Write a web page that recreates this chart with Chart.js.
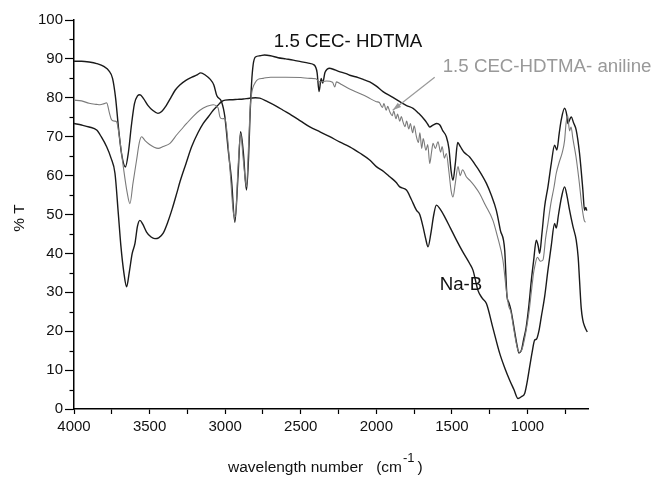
<!DOCTYPE html>
<html>
<head>
<meta charset="utf-8">
<script src="https://cdn.jsdelivr.net/npm/chart.js@4"></script>
<style>
  html, body { margin: 0; padding: 0; background: #fff; }
  #wrap { width: 656px; height: 477px; position: relative; }
</style>
</head>
<body>
<div id="wrap"><canvas id="irChart"></canvas></div>
<script>
// wavenumbers (cm-1) and %T
const hdtmaWn = [4000, 3950, 3900, 3850, 3800, 3770, 3745, 3725, 3705, 3685, 3660, 3640, 3620, 3600, 3580, 3564, 3540, 3510, 3480, 3445, 3420, 3390, 3360, 3330, 3300, 3260, 3220, 3190, 3161, 3130, 3100, 3075, 3055, 3024, 3002, 2980, 2958, 2936, 2915, 2898, 2880, 2859, 2845, 2835, 2825, 2815, 2800, 2770, 2740, 2700, 2650, 2600, 2550, 2500, 2450, 2410, 2392, 2379, 2365, 2355, 2340, 2308, 2290, 2250, 2200, 2176, 2120, 2080, 2044, 2000, 1956, 1900, 1845, 1800, 1757, 1720, 1680, 1660, 1647, 1625, 1600, 1580, 1560, 1537, 1520, 1505, 1493, 1478, 1462, 1445, 1420, 1383, 1350, 1320, 1272, 1240, 1206, 1180, 1151, 1136, 1125, 1110, 1090, 1070, 1057, 1040, 1025, 1009, 990, 975, 960, 942, 930, 920, 905, 887, 865, 843, 821, 806, 790, 777, 755, 740, 733, 720, 711, 695, 678, 656, 634, 623, 615, 608];
const hdtmaT = [89.4, 89.4, 89.2, 88.8, 88.0, 87.0, 85.0, 80.0, 72.0, 65.5, 62.2, 66, 73, 78.5, 80.5, 80.8, 79.8, 78.0, 76.8, 76.0, 76.5, 78.0, 80.0, 82.0, 83.3, 84.5, 85.3, 85.8, 86.4, 85.8, 84.8, 83.3, 80.5, 79.0, 75.1, 66.6, 58.8, 48.0, 60, 71.3, 66, 56.3, 65, 76, 84, 88.5, 90.5, 90.8, 91.0, 90.8, 90.3, 90.0, 89.7, 89.3, 88.9, 88.4, 86.5, 81.6, 85, 83.8, 86.5, 87.6, 87.4, 86.8, 86.2, 85.8, 85.2, 84.6, 84.1, 83.0, 81.6, 80.3, 79.0, 78.0, 77.3, 76.0, 74.3, 73.2, 72.5, 73.0, 73.4, 73.0, 71.5, 70.0, 67, 61, 58.8, 63, 68.5, 67.5, 66, 64.8, 63, 61.3, 58, 55, 51, 46, 40.8, 29, 27.5, 25.5, 21, 16.5, 14.4, 15.2, 18, 21, 27, 33, 38, 43.4, 42, 40, 45, 52, 57.1, 63.1, 67.8, 66.6, 71, 74.3, 77.3, 75.5, 73.4, 74.5, 75.1, 73.5, 71.7, 65.7, 56.3, 51.1, 51.8, 51];

const anilineWn = [4000, 3950, 3900, 3850, 3828, 3800, 3784, 3765, 3751, 3730, 3718, 3700, 3674, 3650, 3630, 3610, 3586, 3568, 3553, 3530, 3500, 3470, 3443, 3410, 3365, 3320, 3280, 3255, 3210, 3167, 3120, 3079, 3055, 3046, 3035, 3020, 3002, 2985, 2965, 2945, 2932, 2915, 2898, 2880, 2859, 2845, 2835, 2825, 2800, 2780, 2749, 2700, 2600, 2500, 2440, 2400, 2374, 2330, 2290, 2275, 2264, 2230, 2180, 2110, 2060, 2000, 1980, 1960, 1950, 1935, 1925, 1911, 1895, 1885, 1870, 1860, 1845, 1835, 1824, 1810, 1800, 1785, 1775, 1760, 1750, 1735, 1722, 1712, 1700, 1690, 1672, 1660, 1647, 1635, 1625, 1610, 1592, 1575, 1565, 1550, 1537, 1520, 1505, 1493, 1478, 1460, 1445, 1430, 1405, 1380, 1350, 1317, 1280, 1229, 1200, 1163, 1140, 1125, 1110, 1095, 1075, 1060, 1050, 1035, 1010, 990, 975, 960, 953, 935, 915, 898, 880, 865, 845, 825, 810, 790, 770, 755, 745, 735, 722, 712, 700, 680, 660, 640, 625, 616];
const anilineT = [79.4, 79.2, 78.6, 78.3, 78.2, 78.5, 78.7, 76, 74.3, 74.0, 73.8, 70, 62.3, 56, 52.8, 58, 64, 68.5, 70, 69, 68, 67.3, 67.0, 67.5, 68.3, 70.5, 72.3, 73.4, 75.3, 76.8, 77.8, 78.2, 77.8, 77.3, 75.1, 74.6, 74.7, 70, 60, 50.3, 49.5, 62, 70.8, 64, 57.1, 68, 77, 81.1, 84, 84.8, 85.0, 85.3, 85.3, 85.2, 85.0, 84.9, 84.1, 84.3, 84.0, 82.8, 84.1, 83.4, 82.3, 81.1, 80.2, 79.0, 78.8, 77.5, 78.5, 76.8, 77.8, 76.4, 75.4, 76.6, 74.6, 75.8, 74.0, 75.2, 73.8, 72.6, 74.0, 72.0, 73.4, 71.0, 72.8, 70.0, 68.5, 71.0, 67.0, 69.5, 66.5, 68, 63.1, 66, 68.3, 67.0, 68.7, 66.0, 67.5, 64.5, 65.7, 61, 56, 54.5, 58, 62.3, 60, 61.5, 59.7, 58.7, 57.3, 55.4, 52.5, 48.5, 44.5, 38.3, 30.5, 26.5, 25, 21.5, 17, 14.8, 14.6, 15.5, 20, 25, 30, 35, 36.5, 39, 38, 38.3, 44, 47.7, 53, 57, 60.6, 63.5, 66, 69, 73.5, 75.5, 71.5, 72.5, 69.5, 65, 59, 52, 48.5, 48];

const naBWn = [4000, 3950, 3900, 3850, 3820, 3784, 3755, 3729, 3707, 3690, 3670, 3652, 3635, 3615, 3597, 3580, 3564, 3545, 3520, 3490, 3465, 3440, 3410, 3380, 3350, 3320, 3299, 3260, 3222, 3180, 3145, 3110, 3079, 3050, 3024, 3000, 2960, 2920, 2880, 2840, 2800, 2771, 2720, 2660, 2617, 2560, 2500, 2440, 2370, 2308, 2240, 2176, 2110, 2044, 2000, 1950, 1911, 1870, 1845, 1801, 1770, 1735, 1713, 1691, 1675, 1658, 1640, 1620, 1603, 1580, 1548, 1510, 1470, 1430, 1383, 1361, 1328, 1300, 1272, 1230, 1184, 1150, 1118, 1090, 1063, 1040, 1019, 1000, 986, 970, 953, 940, 925, 909, 887, 865, 843, 821, 810, 795, 775, 755, 740, 722, 700, 678, 665, 656, 645, 635, 620, 605];
const naBT = [73.4, 73.0, 72.5, 71.7, 70.0, 67.4, 64.5, 60.6, 50.3, 42, 35, 31.4, 35, 40, 42.5, 47, 48.5, 47.5, 45.5, 44.2, 43.8, 44.0, 45.2, 48, 51.5, 55.5, 58.4, 63, 67.4, 71, 73.4, 75.2, 76.8, 78.0, 79.0, 79.4, 79.5, 79.6, 79.7, 79.9, 80.0, 79.9, 79.0, 77.8, 76.8, 75.5, 74.0, 72.5, 71.2, 70.0, 68.6, 67.4, 65.8, 64.0, 62.3, 61.0, 59.7, 58.3, 57.1, 56.3, 54.0, 51.1, 50.0, 46.8, 44, 41.7, 45, 50, 52.4, 51.5, 49.4, 46.5, 43.4, 40.5, 37.4, 35.7, 30.5, 28.5, 27.1, 21, 14.3, 10.5, 7.4, 5, 2.7, 3.2, 4.0, 7.5, 10.8, 14.5, 17.7, 18, 20, 23.7, 28.8, 35.7, 42, 47.7, 46.5, 50, 54.5, 57.1, 55, 51.1, 47, 43.4, 39, 33.1, 26, 23, 21, 19.8];

const xTicks = [4000, 3500, 3000, 2500, 2000, 1500, 1000];
const yTicks = [0, 10, 20, 30, 40, 50, 60, 70, 80, 90, 100];

const FONT = '"Liberation Sans", Arial, sans-serif';

function toPoints(wn, t) {
    return wn.map((w, i) => ({ x: w, y: t[i] }));
}

// labels, arrow, minor y ticks and the x title with superscript
const annotatePlugin = {
    id: 'annotate',
    afterDraw(chart) {
        const ctx = chart.ctx;
        const xs = chart.scales.x;
        const ys = chart.scales.y;
        const px = v => xs.getPixelForValue(v);
        const py = v => ys.getPixelForValue(v);

        ctx.save();
        // minor ticks on the y axis
        ctx.strokeStyle = '#000';
        ctx.lineWidth = 1.2;
        for (let v = 5; v < 100; v += 10) {
            const y = Math.round(py(v)) + 0.5;
            ctx.beginPath();
            ctx.moveTo(xs.left - 4.5, y);
            ctx.lineTo(xs.left, y);
            ctx.stroke();
        }

        ctx.textBaseline = 'middle';
        ctx.textAlign = 'left';
        ctx.font = '18.7px ' + FONT;
        ctx.fillStyle = '#111';
        ctx.fillText('1.5 CEC- HDTMA', px(2678), py(94.3));
        ctx.fillText('Na-B', px(1581), py(31.8));
        ctx.fillStyle = '#999';
        ctx.fillText('1.5 CEC-HDTMA- aniline', px(1561), py(87.9));

        // arrow to the aniline trace
        const x0 = px(1614), y0 = py(85.3), x1 = px(1892), y1 = py(76.8);
        ctx.strokeStyle = '#999';
        ctx.lineWidth = 1.2;
        ctx.beginPath();
        ctx.moveTo(x0, y0);
        ctx.lineTo(x1, y1);
        ctx.stroke();
        const ang = Math.atan2(y1 - y0, x1 - x0);
        ctx.fillStyle = '#999';
        ctx.beginPath();
        ctx.moveTo(x1, y1);
        ctx.lineTo(x1 - 9 * Math.cos(ang - 0.3), y1 - 9 * Math.sin(ang - 0.3));
        ctx.lineTo(x1 - 9 * Math.cos(ang + 0.3), y1 - 9 * Math.sin(ang + 0.3));
        ctx.closePath();
        ctx.fill();

        // axis titles
        ctx.fillStyle = '#111';
        ctx.font = '15.5px ' + FONT;
        ctx.textBaseline = 'alphabetic';
        const base = 472;
        const t1 = 'wavelength number   (cm';
        ctx.fillText(t1, 228, base);
        let xx = 228 + ctx.measureText(t1).width;
        ctx.font = '13px ' + FONT;
        ctx.fillText('-1', xx + 1, base - 10);
        xx += ctx.measureText('-1').width + 4;
        ctx.font = '15.5px ' + FONT;
        ctx.fillText(')', xx, base);

        ctx.translate(20, 218);
        ctx.rotate(-Math.PI / 2);
        ctx.textAlign = 'center';
        ctx.textBaseline = 'middle';
        ctx.fillText('% T', 0, 0);
        ctx.restore();
    }
};

const lineDefaults = {
    pointRadius: 0,
    fill: false,
    cubicInterpolationMode: 'monotone'
};

new Chart(document.getElementById('irChart'), {
    type: 'line',
    data: {
        datasets: [
            { ...lineDefaults, label: '1.5 CEC-HDTMA- aniline', data: toPoints(anilineWn, anilineT), borderColor: '#7a7a7a', borderWidth: 1.1 },
            { ...lineDefaults, label: '1.5 CEC- HDTMA', data: toPoints(hdtmaWn, hdtmaT), borderColor: '#1a1a1a', borderWidth: 1.4 },
            { ...lineDefaults, label: 'Na-B', data: toPoints(naBWn, naBT), borderColor: '#1a1a1a', borderWidth: 1.4 }
        ]
    },
    options: {
        responsive: true,
        maintainAspectRatio: false,
        animation: false,
        layout: { padding: { left: 0, top: 20, right: 68, bottom: 0 } },
        plugins: {
            legend: { display: false },
            tooltip: { enabled: false }
        },
        scales: {
            x: {
                type: 'linear',
                reverse: true,
                min: 600,
                max: 4000,
                afterFit: s => { s.height = 68; },
                border: { color: '#000', width: 1.5 },
                grid: { drawOnChartArea: false, drawTicks: true, tickLength: 5, tickColor: '#000', tickWidth: 1.2 },
                ticks: {
                    stepSize: 250,
                    includeBounds: false,
                    autoSkip: false,
                    maxRotation: 0,
                    padding: 4,
                    color: '#111',
                    font: { family: FONT, size: 15 },
                    callback: v => xTicks.includes(v) ? String(v) : ''
                }
            },
            y: {
                min: 0,
                max: 100,
                afterFit: s => { s.width = 74; },
                border: { color: '#000', width: 1.5 },
                grid: { drawOnChartArea: false, drawTicks: true, tickLength: 9, tickColor: '#000', tickWidth: 1.2 },
                ticks: {
                    stepSize: 10,
                    padding: 2,
                    color: '#111',
                    font: { family: FONT, size: 15 },
                    callback: v => yTicks.includes(v) ? String(v) : ''
                }
            }
        }
    },
    plugins: [annotatePlugin]
});
</script>
</body>
</html>
